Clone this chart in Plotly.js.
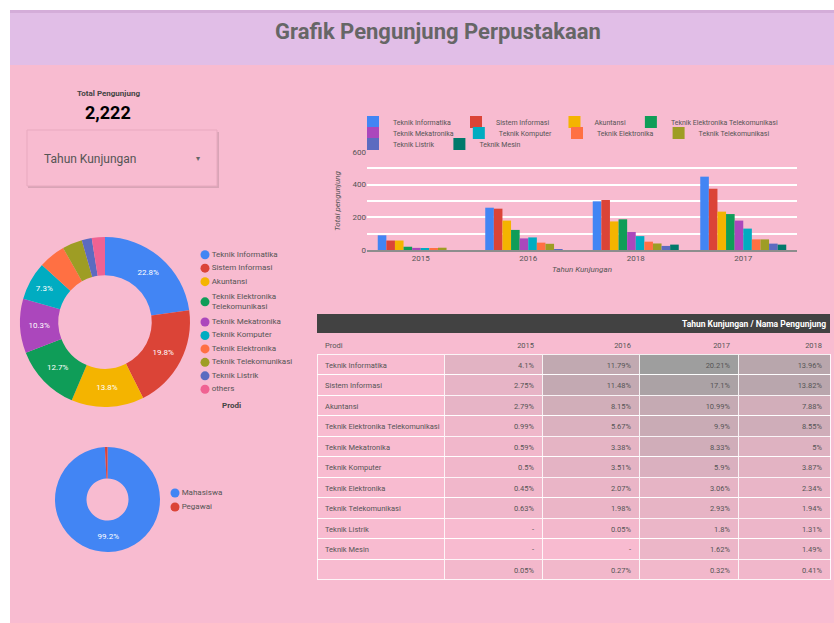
<!DOCTYPE html>
<html><head><meta charset="utf-8">
<script src="https://cdn.plot.ly/plotly-3.0.1.min.js"></script>
<style>html,body{margin:0;padding:0;background:#fff;overflow:hidden}#chart{width:834px;height:623px}</style>
</head><body><div id="chart"></div>
<script>
// ---------- DATA ----------
const totalPengunjung = 2222;
const prodi = ['Teknik Informatika','Sistem Informasi','Akuntansi','Teknik Elektronika Telekomunikasi','Teknik Mekatronika','Teknik Komputer','Teknik Elektronika','Teknik Telekomunikasi','Teknik Listrik','Teknik Mesin'];
const prodiColors = ['#4285f4','#db4437','#f4b400','#0f9d58','#ab47bc','#00acc1','#ff7043','#9e9d24','#5c6bc0','#00796b'];
const barYears = ['2015','2016','2018','2017'];
const visitsInformatika = [90, 259, 298, 449];
const visitsSistemInfo = [58, 253, 306, 375];
const visitsAkuntansi = [58, 180, 175, 235];
const visitsElkaTelkom = [20, 123, 188, 220];
const visitsMekatronika = [13, 71, 110, 180];
const visitsKomputer = [12, 77, 85, 131];
const visitsElektronika = [11, 45, 51, 65];
const visitsTelekom = [14, 38, 40, 65];
const visitsListrik = [null, 1, 25, 39];
const visitsMesin = [null, null, 33, 33];

const donutLabels = ['Teknik Informatika','Sistem Informasi','Akuntansi','Teknik Elektronika<br>Telekomunikasi','Teknik Mekatronika','Teknik Komputer','Teknik Elektronika','Teknik Telekomunikasi','Teknik Listrik','others'];
const donutColors = ['#4285f4','#db4437','#f4b400','#0f9d58','#ab47bc','#00acc1','#ff7043','#9e9d24','#5c6bc0','#f06292'];
const donutShare = [22.8, 19.8, 13.8, 12.7, 10.3, 7.3, 5.1, 3.8, 1.9, 2.5];

const statusLabels = ['Mahasiswa','Pegawai'];
const statusColors = ['#4285f4','#db4437'];
const statusShare = [99.2, 0.8];

const tableYears = ['2015','2016','2017','2018'];
const tableRows = prodi.concat(['']);
const pct2015 = [4.1, 2.75, 2.79, 0.99, 0.59, 0.5, 0.45, 0.63, null, null, 0.05];
const pct2016 = [11.79, 11.48, 8.15, 5.67, 3.38, 3.51, 2.07, 1.98, 0.05, null, 0.27];
const pct2017 = [20.21, 17.1, 10.99, 9.9, 8.33, 5.9, 3.06, 2.93, 1.8, 1.62, 0.32];
const pct2018 = [13.96, 13.82, 7.88, 8.55, 5, 3.87, 2.34, 1.94, 1.31, 1.49, 0.41];

// ---------- HELPERS ----------
const W = 834, H = 623;
const px = x => x / W;
const py = y => 1 - y / H;
const PINK = '#f8bbd0', LAV = '#e1bee7', TXT = '#555555';
const FONT = 'Roboto, "Noto Sans", sans-serif';

const barSeries = [visitsInformatika, visitsSistemInfo, visitsAkuntansi, visitsElkaTelkom, visitsMekatronika, visitsKomputer, visitsElektronika, visitsTelekom, visitsListrik, visitsMesin];
const legendFor = i => i < 4 ? 'legend' : (i < 8 ? 'legend2' : 'legend3');

const traces = barSeries.map((ys, i) => ({
  type: 'bar', name: prodi[i], x: barYears, y: ys,
  marker: {color: prodiColors[i]}, legend: legendFor(i),
  xaxis: 'x', yaxis: 'y', hovertemplate: '%{x}: %{y}<extra>' + prodi[i] + '</extra>'
}));

const pctText = (arr) => {
  const tot = arr.reduce((a, b) => a + b, 0);
  return arr.map(v => v / tot >= 0.07 ? (v / tot * 100).toFixed(1) + '%' : '');
};

traces.push({
  type: 'pie', labels: donutLabels, values: donutShare, hole: 0.55, sort: false,
  direction: 'clockwise', marker: {colors: donutColors},
  text: pctText(donutShare), textinfo: 'text', textposition: 'inside', insidetextorientation: 'horizontal',
  textfont: {color: '#ffffff', size: 8, family: FONT},
  domain: {x: [px(20), px(190)], y: [py(407), py(237)]},
  showlegend: false, hoverinfo: 'label+percent'
});

traces.push({
  type: 'pie', labels: statusLabels, values: statusShare, hole: 0.4, sort: false,
  direction: 'clockwise', marker: {colors: statusColors},
  text: pctText(statusShare), textinfo: 'text', textposition: 'inside', insidetextorientation: 'horizontal',
  textfont: {color: '#ffffff', size: 8, family: FONT},
  domain: {x: [px(55), px(160)], y: [py(552), py(447)]},
  showlegend: false, hoverinfo: 'label+percent'
});

// custom round-marker legends for the two donuts (one slot per text line)
function legendTrace(labels, colors, xa, ya) {
  const lines = labels.map(l => l.split('<br>').length);
  const pos = [];
  lines.reduce((acc, n) => { pos.push(acc + (n - 1) / 2); return acc + n; }, 0);
  return {type: 'scatter', mode: 'markers+text', x: labels.map(() => 0), y: pos, xaxis: xa, yaxis: ya,
    marker: {size: 9, color: colors, symbol: 'circle'},
    text: labels, textposition: 'middle right',
    textfont: {size: 8, color: TXT, family: FONT}, showlegend: false, hoverinfo: 'skip'};
}
traces.push(legendTrace(donutLabels, donutColors, 'x2', 'y2'));
traces.push(legendTrace(statusLabels, statusColors, 'x3', 'y3'));

const pctCols = [pct2015, pct2016, pct2017, pct2018];
const maxPct = Math.max(...pctCols.flat().filter(v => v != null));
const lo = [243, 184, 204], hi = [158, 158, 158];
const shade = v => {
  if (v == null) return PINK;
  const t = v / maxPct;
  const c = lo.map((a, k) => Math.round(a + (hi[k] - a) * t));
  return 'rgb(' + c.join(',') + ')';
};
traces.push({
  type: 'table',
  domain: {x: [px(317), px(830)], y: [py(592), py(334)]},
  columnwidth: [127, 98, 97, 99, 92],
  header: {
    values: ['Prodi'].concat(tableYears),
    align: ['left', 'right', 'right', 'right', 'right'],
    fill: {color: 'rgba(0,0,0,0)'}, line: {color: 'rgba(0,0,0,0)', width: 0},
    font: {size: 7.5, color: TXT, family: FONT}, height: 20
  },
  cells: {
    values: [tableRows.map(s => s.replace(/ /g, '\u00a0'))].concat(pctCols.map(col => col.map(v => v == null ? '-' : v + '%'))),
    align: ['left', 'right', 'right', 'right', 'right'],
    fill: {color: [tableRows.map(() => 'rgba(0,0,0,0)')].concat(pctCols.map(col => col.map(shade)))},
    line: {color: 'rgba(255,255,255,0.85)', width: 1},
    font: {size: 7.5, color: TXT, family: FONT}, height: 20.5
  }
});

const hiddenAx = {showgrid: false, zeroline: false, showticklabels: false, showline: false, ticks: '', fixedrange: true};
const legBase = {bgcolor: 'rgba(0,0,0,0)', font: {size: 7, color: TXT, family: FONT}, itemwidth: 30, orientation: 'h', x: px(353), xanchor: 'left', yanchor: 'middle'};
const layout = {
  width: W, height: H, margin: {l: 0, r: 0, t: 0, b: 0},
  paper_bgcolor: '#ffffff', plot_bgcolor: 'rgba(0,0,0,0)',
  font: {family: FONT, color: TXT, size: 8},
  showlegend: true, barmode: 'group', bargap: 0.2, bargroupgap: 0,
  xaxis: {
    domain: [px(367), px(797)], type: 'category', showline: true, linecolor: '#8d8d8d', linewidth: 1.5,
    showgrid: false, ticks: '', tickfont: {size: 8, color: TXT},
    title: {text: '<i>Tahun Kunjungan</i>', font: {size: 8, color: TXT}, standoff: 4}
  },
  yaxis: {
    domain: [py(250), py(152)], range: [0, 600], tickvals: [0, 200, 400, 600],
    showgrid: true, gridcolor: '#ffffff', gridwidth: 1.5,
    minor: {dtick: 100, showgrid: true, gridcolor: '#ffffff', gridwidth: 1.5},
    zeroline: false, ticks: '', tickfont: {size: 8, color: TXT},
    title: {text: '<i>Total pengunjung</i>', font: {size: 8, color: TXT}, standoff: 10}
  },
  xaxis2: Object.assign({domain: [px(199), px(310)], range: [-6, 105], anchor: 'y2'}, hiddenAx),
  yaxis2: Object.assign({domain: [py(396), py(248)], range: [10.5, -0.5], anchor: 'x2'}, hiddenAx),
  xaxis3: Object.assign({domain: [px(169), px(260)], range: [-6, 85], anchor: 'y3'}, hiddenAx),
  yaxis3: Object.assign({domain: [py(514), py(486)], range: [1.5, -0.5], anchor: 'x3'}, hiddenAx),
  legend: Object.assign({}, legBase, {y: py(122)}),
  legend2: Object.assign({}, legBase, {y: py(133)}),
  legend3: Object.assign({}, legBase, {y: py(144)}),
  shapes: [
    {type: 'rect', xref: 'paper', yref: 'paper', x0: px(10), x1: px(834), y0: py(623), y1: py(65), fillcolor: PINK, line: {width: 0}, layer: 'below'},
    {type: 'rect', xref: 'paper', yref: 'paper', x0: px(10), x1: px(834), y0: py(65), y1: py(10), fillcolor: LAV, line: {width: 0}, layer: 'below'},
    {type: 'rect', xref: 'paper', yref: 'paper', x0: px(10), x1: px(834), y0: py(13), y1: py(10), fillcolor: '#d4add9', line: {width: 0}, layer: 'below'},
    {type: 'rect', xref: 'paper', yref: 'paper', x0: px(28), x1: px(219), y0: py(188), y1: py(132), fillcolor: 'rgba(0,0,0,0.12)', line: {width: 0}, layer: 'below'},
    {type: 'rect', xref: 'paper', yref: 'paper', x0: px(27), x1: px(217), y0: py(186), y1: py(130), fillcolor: PINK, line: {color: '#e8a9bf', width: 1}, layer: 'below'},
    {type: 'rect', xref: 'paper', yref: 'paper', x0: px(317), x1: px(830), y0: py(333), y1: py(314), fillcolor: '#424242', line: {width: 0}, layer: 'below'}
  ],
  annotations: [
    {xref: 'paper', yref: 'paper', x: px(438), y: py(32), text: '<b>Grafik Pengunjung Perpustakaan</b>', showarrow: false, xanchor: 'center', yanchor: 'middle', font: {size: 22, color: '#666666', family: FONT}},
    {xref: 'paper', yref: 'paper', x: px(108), y: py(93), text: '<b>Total Pengunjung</b>', showarrow: false, xanchor: 'center', yanchor: 'middle', font: {size: 8, color: '#444444'}},
    {xref: 'paper', yref: 'paper', x: px(108), y: py(112), text: '<b>' + totalPengunjung.toLocaleString('en-US') + '</b>', showarrow: false, xanchor: 'center', yanchor: 'middle', font: {size: 18, color: '#000000'}},
    {xref: 'paper', yref: 'paper', x: px(42), y: py(159), text: 'Tahun Kunjungan', showarrow: false, xanchor: 'left', yanchor: 'middle', font: {size: 12, color: '#555555'}},
    {xref: 'paper', yref: 'paper', x: px(198), y: py(158), text: '▾', showarrow: false, xanchor: 'center', yanchor: 'middle', font: {size: 8, color: '#666666'}},
    {xref: 'paper', yref: 'paper', x: px(220), y: py(405), text: '<b>Prodi</b>', showarrow: false, xanchor: 'left', yanchor: 'middle', font: {size: 8, color: '#444444'}},
    {xref: 'paper', yref: 'paper', x: px(828), y: py(323.5), text: '<b>Tahun Kunjungan / Nama Pengunjung</b>', showarrow: false, xanchor: 'right', yanchor: 'middle', font: {size: 8.5, color: '#ffffff'}}
  ]
};

Plotly.newPlot('chart', traces, layout, {displayModeBar: false, responsive: false});
</script>
</body></html>
